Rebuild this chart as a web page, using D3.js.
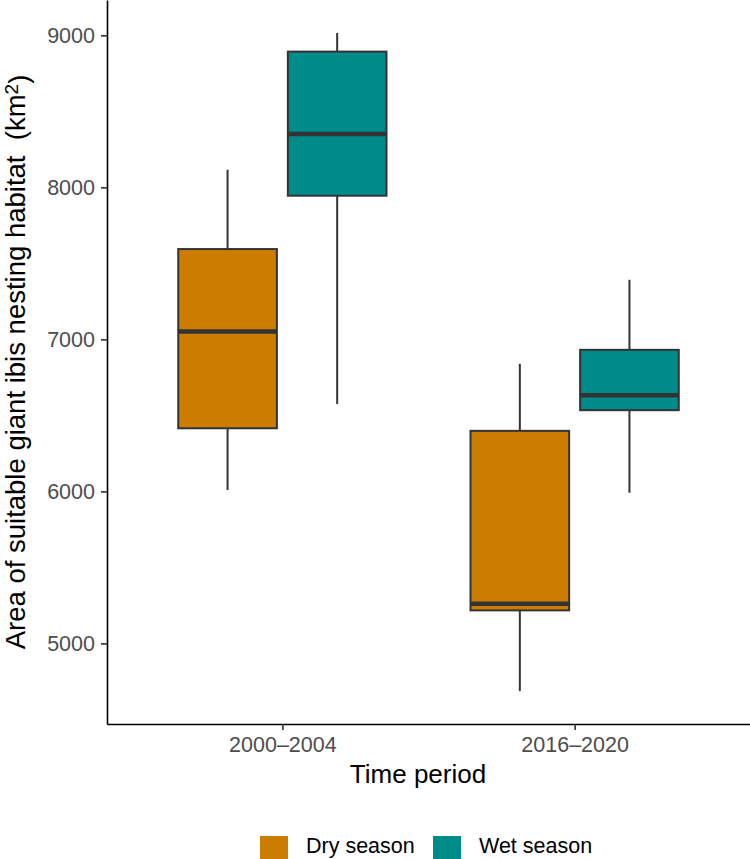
<!DOCTYPE html>
<html>
<head>
<meta charset="utf-8">
<script src="https://cdn.jsdelivr.net/npm/d3@7"></script>
<style>
  body { margin: 0; background: #fff; }
  text { font-family: "Liberation Sans", Arial, sans-serif; }
</style>
</head>
<body>
<svg id="chart"></svg>
<script>
var periods = ["2000\u20132004", "2016\u20132020"];
var seasons = ["Dry season", "Wet season"];
var colors = ["#CC7D00", "#008B8B"];

// box stats per season, one value per period
var dryLow    = [6009, 4686];
var dryQ1     = [6415, 5217];
var dryMedian = [7051, 5261];
var dryQ3     = [7594, 6398];
var dryHigh   = [8116, 6839];

var wetLow    = [6575, 5991];
var wetQ1     = [7945, 6534];
var wetMedian = [8351, 6633];
var wetQ3     = [8893, 6931];
var wetHigh   = [9016, 7392];

var yTicks = [5000, 6000, 7000, 8000, 9000];

var dims = {
    width: 750,
    height: 859,
    margin: { top: 0, bottom: 135, right: 0, left: 107 }
}

var boxes = [];
periods.forEach(function(p, i) {
    boxes.push({ period: p, season: seasons[0], low: dryLow[i], q1: dryQ1[i], med: dryMedian[i], q3: dryQ3[i], high: dryHigh[i] });
    boxes.push({ period: p, season: seasons[1], low: wetLow[i], q1: wetQ1[i], med: wetMedian[i], q3: wetQ3[i], high: wetHigh[i] });
});

var svg = d3.select("#chart")
    .attr("width", dims.width)
    .attr("height", dims.height);

svg.append("rect").attr("width", dims.width).attr("height", dims.height).attr("fill", "#fff");

var bottom = dims.height - dims.margin.bottom;

var xScale = d3.scalePoint()
    .domain(periods)
    .range([dims.margin.left, dims.width - dims.margin.right])
    .padding(0.6);

var step = xScale.step();
var xSub = d3.scaleBand()
    .domain(seasons)
    .range([-0.375 * step, 0.375 * step])
    .paddingInner(0.1)
    .paddingOuter(0.05);

var yScale = d3.scaleLinear()
    .domain([4469.5, 9232.5])
    .range([bottom, dims.margin.top]);

var color = d3.scaleOrdinal().domain(seasons).range(colors);

// boxes
var g = svg.selectAll(".box")
    .data(boxes)
    .enter()
    .append("g")
    .attr("class", "box")
    .attr("transform", d => `translate(${xScale(d.period) + xSub(d.season)},0)`);

var bw = xSub.bandwidth();

g.append("line")
    .attr("x1", bw / 2).attr("x2", bw / 2)
    .attr("y1", d => yScale(d.high)).attr("y2", d => yScale(d.q3))
    .attr("stroke", "#333").attr("stroke-width", 2);
g.append("line")
    .attr("x1", bw / 2).attr("x2", bw / 2)
    .attr("y1", d => yScale(d.q1)).attr("y2", d => yScale(d.low))
    .attr("stroke", "#333").attr("stroke-width", 2);
g.append("rect")
    .attr("x", 0)
    .attr("width", bw)
    .attr("y", d => yScale(d.q3))
    .attr("height", d => yScale(d.q1) - yScale(d.q3))
    .attr("fill", d => color(d.season))
    .attr("stroke", "#333")
    .attr("stroke-width", 2);
g.append("line")
    .attr("x1", 0).attr("x2", bw)
    .attr("y1", d => yScale(d.med)).attr("y2", d => yScale(d.med))
    .attr("stroke", "#333").attr("stroke-width", 4.5);

// axes
var xAxis = svg.append("g")
    .attr("transform", `translate(0,${bottom})`)
    .call(d3.axisBottom(xScale).tickSize(6).tickSizeOuter(0).tickPadding(7));
var yAxis = svg.append("g")
    .attr("transform", `translate(${dims.margin.left},0)`)
    .call(d3.axisLeft(yScale).tickValues(yTicks).tickFormat(d3.format("d")).tickSize(6).tickSizeOuter(0).tickPadding(6));

[xAxis, yAxis].forEach(function(a) {
    a.select(".domain").attr("stroke", "#000").attr("stroke-width", 1.6);
    a.selectAll(".tick line").attr("stroke", "#333").attr("stroke-width", 1.6);
    a.selectAll(".tick text")
        .attr("fill", "#4D4D4D")
        .style("font-size", "21.5px")
        .style("font-family", "Liberation Sans, Arial, sans-serif");
});

// axis titles
svg.append("text")
    .attr("x", 418)
    .attr("y", 783)
    .attr("text-anchor", "middle")
    .style("font-size", "26px")
    .text("Time period");

var yTitle = svg.append("text")
    .attr("transform", `translate(25,${(bottom + dims.margin.top) / 2}) rotate(-90)`)
    .attr("text-anchor", "middle")
    .style("font-size", "27.5px")
    .style("white-space", "pre");
yTitle.append("tspan").text("Area of suitable giant ibis nesting habitat  (km");
yTitle.append("tspan").attr("dy", "-0.38em").style("font-size", "19px").text("2");
yTitle.append("tspan").attr("dy", "0.38em").text(")");

// legend
var legendX = [260, 433];
var legend = svg.selectAll(".legend")
    .data(seasons)
    .enter()
    .append("g")
    .attr("class", "legend")
    .attr("transform", (d, i) => `translate(${legendX[i]},836)`);
legend.append("rect")
    .attr("width", 28).attr("height", 28)
    .attr("fill", d => color(d));
legend.append("text")
    .attr("x", 46)
    .attr("y", 17)
    .style("font-size", "21.5px")
    .text(d => d);
</script>
</body>
</html>
